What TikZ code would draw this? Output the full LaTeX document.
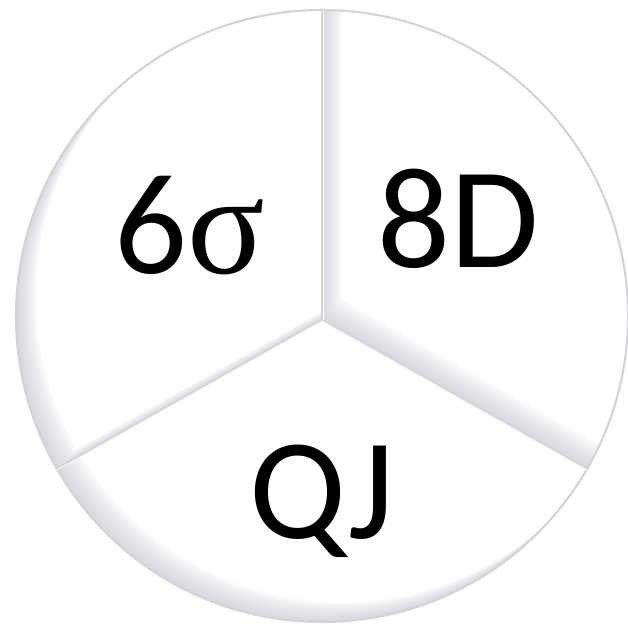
\documentclass[tikz,border=0pt]{standalone}
\usepackage{fontspec}
\setmainfont{Carlito}
\newfontfamily\sigmafont{Liberation Serif}
\usepackage{tikz}
\usetikzlibrary{calc}
\definecolor{rimgray}{RGB}{212,212,216}
\definecolor{bevel}{RGB}{188,188,204}

% the three sectors (centre 6.44,6.14, radius 6.12, hub 6.44,6.06)
\def\sectorSix{(6.44,6.06) -- (6.44,12.26) arc[start angle=90,end angle=210,radius=6.12] -- cycle}
\def\sectorEight{(6.44,6.06) -- (6.44,12.26) arc[start angle=90,end angle=-30,radius=6.12] -- cycle}
\def\sectorQJ{(6.44,6.06) -- (1.14,3.08) arc[start angle=210,end angle=330,radius=6.12] -- cycle}

\begin{document}
\begin{tikzpicture}[
  rim/.style={draw=rimgray,line width=1.2pt},
  divider/.style={draw=rimgray,line width=1.6pt},
  highlight/.style={draw=white,line width=0.5pt},
  label/.style={font=\fontsize{82}{90}\selectfont,text=black,anchor=base,inner sep=0pt},
]
\useasboundingbox[fill=white] (0,0) rectangle (12.56,12.46);

% base disc
\fill[white] (6.44,6.14) circle[radius=6.12];

% soft bevel inside each sector
\foreach \sect in {\sectorSix,\sectorEight,\sectorQJ}{
  \foreach \k in {1,...,10}{
    \begin{scope}
      \clip \sect;
      \fill[bevel,opacity=0.07,even odd rule] (-1,-1) rectangle (14,14) [shift={(\k*0.04,\k*0.04)}] \sect;
    \end{scope}
  }
}

\coordinate (hub) at (6.44,6.06);
\coordinate (top) at (6.44,12.26);
\coordinate (lowleft) at (1.14,3.08);
\coordinate (lowright) at (11.74,3.08);

% outline and dividers
\draw[rim] (6.44,6.14) circle[radius=6.12];
\draw[divider] (hub) -- (top);
\draw[divider] (hub) -- (lowleft);
\draw[divider] (hub) -- (lowright);
\draw[highlight] ([xshift=0.6pt]hub) -- ([xshift=0.6pt]top);
\draw[highlight] ([yshift=-0.6pt]hub) -- ([yshift=-0.6pt]lowleft);
\draw[highlight] ([yshift=-0.6pt]hub) -- ([yshift=-0.6pt]lowright);

\node[label] (six) at (3.80,7.00) {6{\sigmafont σ}};
\node[label] (eight) at (9.16,7.12) {8D};
\node[label] (qj) at (6.44,1.70) {QJ};
\end{tikzpicture}
\end{document}
